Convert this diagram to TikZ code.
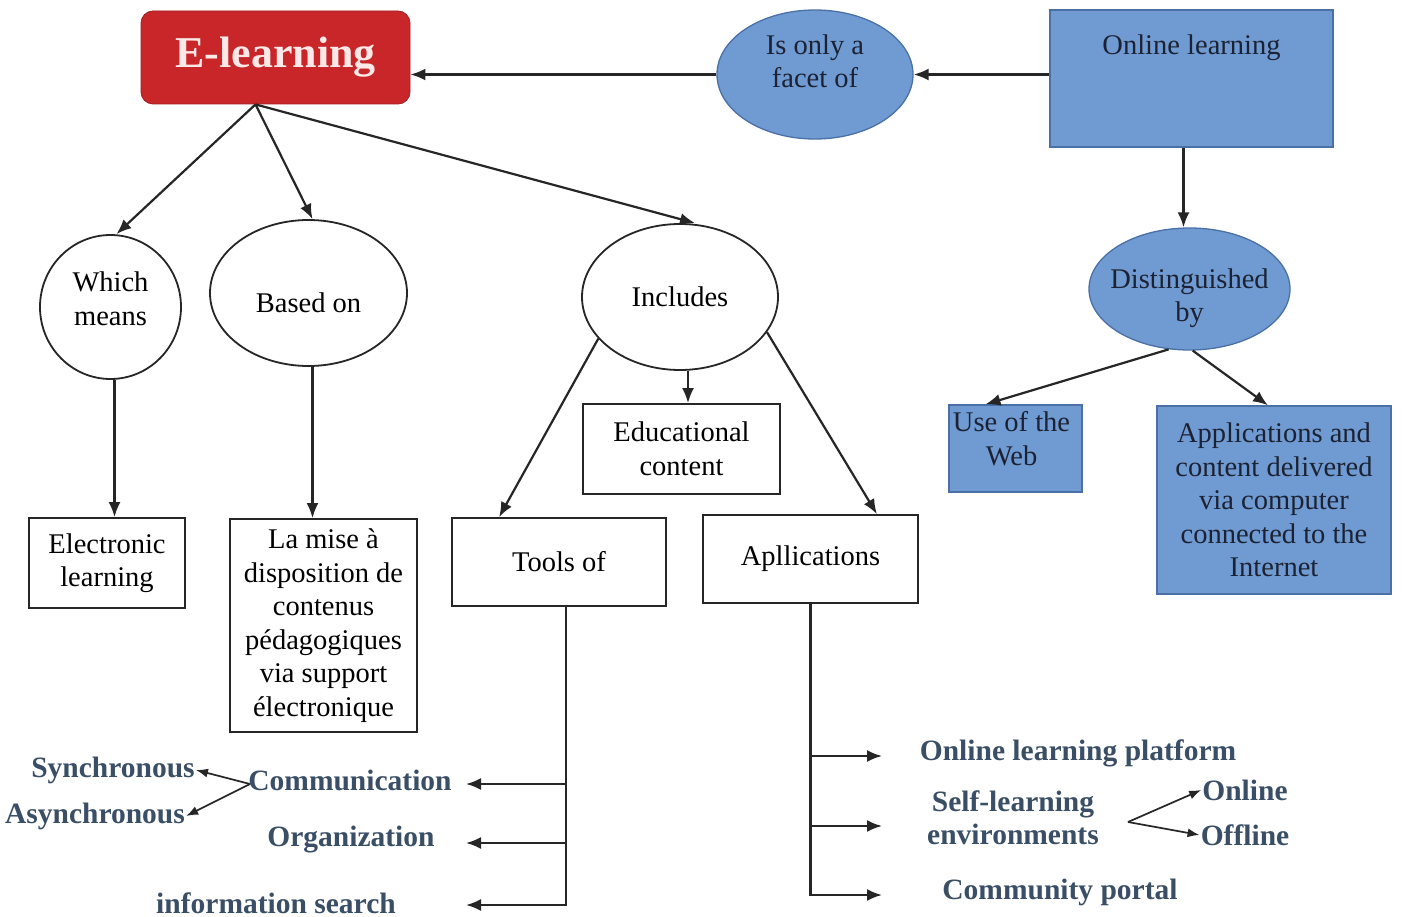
\documentclass[tikz,border=0pt]{standalone}
\usepackage{fontspec}
\setmainfont{Liberation Serif}
\usetikzlibrary{shapes.geometric,arrows.meta}
\definecolor{bfill}{HTML}{6F9BD2}
\definecolor{bdraw}{HTML}{4A70A6}
\definecolor{elred}{HTML}{C9262A}
\definecolor{eltext}{HTML}{FCE8E6}
\definecolor{slate}{HTML}{3A4F66}
\definecolor{darktxt}{HTML}{1C2233}
\tikzset{
  x=1pt,y=-1pt,
  every node/.style={font=\fontsize{28.5}{33.5}\selectfont, align=center},
  conn/.style={line width=2.2pt, black!85},
  arr/.style={conn, -{Latex[length=15pt,width=12pt]}},
  wbox/.style={draw=black!85, line width=1.8pt, fill=white, rectangle, inner sep=0pt},
  bbox/.style={draw=bdraw, line width=1.3pt, fill=bfill, rectangle, inner sep=0pt, text=darktxt},
  well/.style={draw=black!85, line width=1.8pt, fill=white, ellipse, inner sep=0pt},
  bell/.style={draw=bdraw, line width=1.3pt, fill=bfill, ellipse, inner sep=0pt, text=darktxt},
  btxt/.style={font=\fontsize{29.5}{33}\selectfont\bfseries, text=slate, inner sep=1pt},
  sarr/.style={conn, line width=1.7pt, -{Latex[length=12pt,width=9pt]}},
}
\begin{document}
\begin{tikzpicture}
\useasboundingbox (0,0) rectangle (1403,917);
\fill[white] (0,0) rectangle (1403,917);

% top row
\node[rectangle, rounded corners=12pt, fill=elred, draw=elred!80!black, line width=0.8pt,
      minimum width=269pt, minimum height=93pt, text=eltext,
      font=\fontsize{44}{48}\selectfont\bfseries] (el) at (275.5,57.5) {E-learning};
\node[bell, minimum width=196pt, minimum height=129pt,
      label={[align=center,text=darktxt,yshift=13pt]center:{Is only a\\facet of}}] (facet) at (815,74.5) {};
\node[bbox, minimum width=283pt, minimum height=137pt,
      label={[text=darktxt,anchor=north,yshift=-22pt]north:{Online learning}}] (ol) at (1191.5,78.5) {};

% right branch
\node[bell, minimum width=201pt, minimum height=122pt,
      label={[align=center,text=darktxt,yshift=-9pt]center:{Distinguished\\by}}] (dist) at (1189.5,289) {};
\node[bbox, minimum width=133pt, minimum height=87pt,
      label={[align=center,text=darktxt,anchor=north,yshift=-4pt,xshift=-4pt]north:{Use of the\\Web}}] (web) at (1015.5,448.5) {};
\node[bbox, minimum width=234pt, minimum height=188pt] (appsc) at (1274,500)
  {Applications and\\content delivered\\via computer\\connected to the\\Internet};

% level 2 ellipses
\node[well, minimum width=141pt, minimum height=144pt,
      label={[align=center,yshift=8pt]center:{Which\\means}}] (wm) at (110.5,307) {};
\node[well, minimum width=197pt, minimum height=146pt,
      label={[yshift=-10pt]center:{Based on}}] (bn) at (308.5,293) {};
\node[well, minimum width=196pt, minimum height=146pt] (inc) at (680,297) {Includes};

% level 3 boxes
\node[wbox, minimum width=156pt, minimum height=90pt] (elec) at (107,563) {Electronic\\learning};
\node[wbox, minimum width=187pt, minimum height=213pt] (mise) at (323.5,625.5)
  {La mise à\\disposition de\\contenus\\pédagogiques\\via support\\électronique};
\node[wbox, minimum width=197pt, minimum height=90pt] (edu) at (681.5,449) {Educational\\content};
\node[wbox, minimum width=214pt, minimum height=88pt] (tools) at (559,562) {Tools of};
\node[wbox, minimum width=215pt, minimum height=88pt] (apps) at (810.5,559) {Apllications};

% bottom labels left
\node[btxt] (comm) at (350,780) {Communication};
\node[btxt] (org) at (351,840) {Organization};
\node[btxt] (info) at (276,903) {information search};
\node[btxt] (sync) at (113,770) {Synchronous};
\node[btxt] (async) at (95,816) {Asynchronous};

% bottom labels right
\node[btxt] (olp) at (1078,753) {Online learning platform};
\node[btxt] (self) at (1013,818) {Self-learning\\environments};
\node[btxt] (onl) at (1245,790) {Online};
\node[btxt] (offl) at (1245,835) {Offline};
\node[btxt] (comp) at (1060,892) {Community portal};

% coordinates
\coordinate (elb) at ([xshift=-20pt]el.south);
\coordinate (tj) at ([xshift=7pt]tools.south);
\coordinate (ta1) at (466,784);
\coordinate (ta2) at (466,843);
\coordinate (ta3) at (466,905);
\coordinate (aa1) at (882,756);
\coordinate (aa2) at (882,826);
\coordinate (aa3) at (882,895);
\coordinate (cs) at (250,784);
\coordinate (sj) at (1128,822);

% connectors top
\draw[arr] (ol.west |- facet.east) -- (facet.east);
\draw[arr] (facet.west) -- (el.east |- facet.west);
\draw[arr] ([xshift=-8pt]ol.south) -- ([xshift=-8pt]ol.south |- dist.north);
\draw[arr] (dist.251) -- ([xshift=-30pt]web.north);
\draw[arr] (dist.273) -- ([xshift=-6pt]appsc.north);

\draw[arr] (elb) -- ([xshift=6pt]wm.north);
\draw[arr] (elb) -- ([xshift=4pt]bn.north);
\draw[arr] (elb) -- ([xshift=15pt]inc.north);

\draw[arr] ([xshift=4pt]wm.south) -- ([xshift=4pt]wm.south |- elec.north);
\draw[arr] ([xshift=4pt]bn.south) -- ([xshift=4pt]bn.south |- mise.north);
\draw[arr] ([xshift=8pt]inc.south) -- ([xshift=8pt]inc.south |- edu.north);
\draw[arr] (inc.207) -- ([xshift=48pt]tools.north west);
\draw[arr] (inc.338) -- ([xshift=-42pt]apps.north east);

% tools branches
\draw[arr] (tj) |- (ta1);
\draw[arr] (tj) |- (ta2);
\draw[arr] (tj) |- (ta3);
% apps branches
\draw[arr] (apps.south) |- (aa1);
\draw[arr] (apps.south) |- (aa2);
\draw[arr] (apps.south) |- (aa3);

% small arrows
\draw[sarr] (cs) -- (sync.east);
\draw[sarr] (cs) -- (async.east);
\draw[sarr] (sj) -- (onl.west);
\draw[sarr] (sj) -- (offl.west);
\end{tikzpicture}
\end{document}
